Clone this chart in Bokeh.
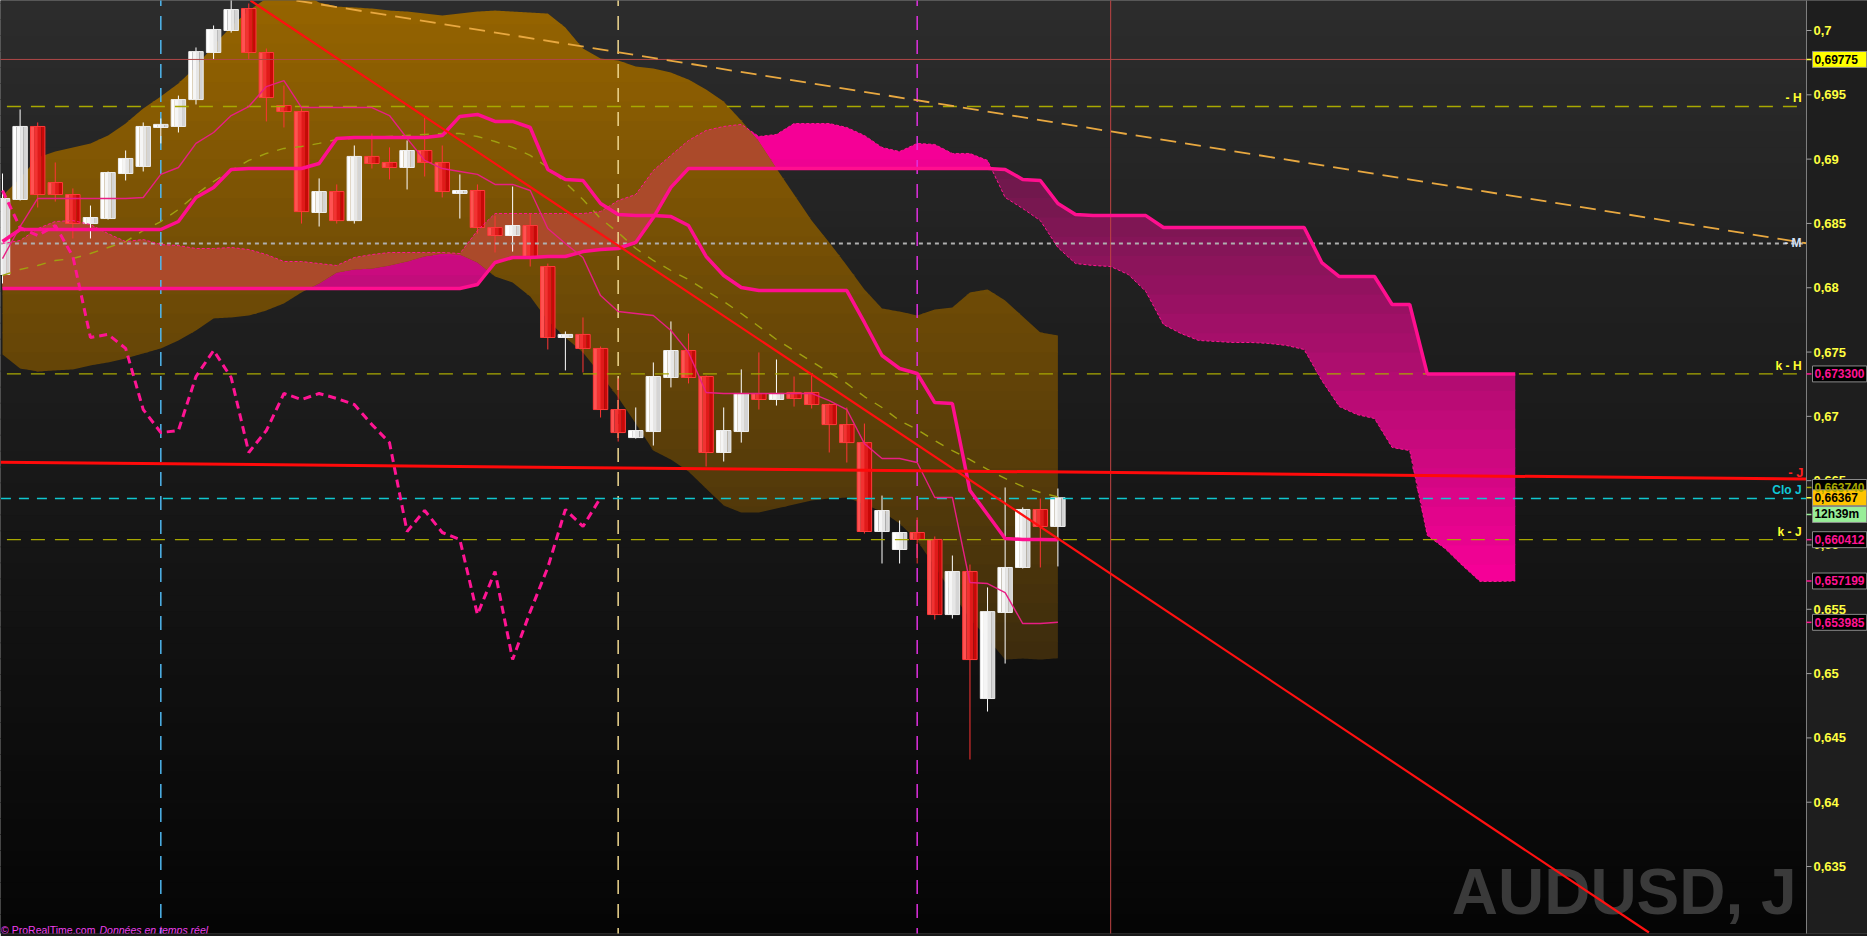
import numpy as np
from bokeh.plotting import figure
from bokeh.models import Range1d
from bokeh.embed import file_html
from bokeh.resources import INLINE
from bokeh.core.properties import value

# ---------------- data ----------------
bar = list(range(-1, 60))          # daily bars (index)
cloud_bar = list(range(-1, 86))    # Ichimoku spans, projected 26 bars ahead

opens = [0.68103, 0.68686, 0.69254, 0.68818, 0.68725, 0.68499, 0.68538, 0.68888, 0.68943, 0.69246,
         0.69254, 0.69463, 0.69829, 0.70000, 0.70171, 0.69829, 0.69417, 0.69370, 0.68585, 0.68748,
         0.68522, 0.69021, 0.68974, 0.68935, 0.69067, 0.68974, 0.68733, 0.68756, 0.68468, 0.68406,
         0.68484, 0.68165, 0.67613, 0.67637, 0.67528, 0.67053, 0.66835, 0.66882, 0.67302, 0.67512,
         0.67310, 0.66719, 0.66882, 0.67178, 0.67131, 0.67186, 0.67186, 0.67092, 0.66936, 0.66796,
         0.66105, 0.65965, 0.66097, 0.66043, 0.65459, 0.65794, 0.64806, 0.65475, 0.65825, 0.66276,
         0.66144]
highs = [0.68888, 0.69386, 0.69285, 0.68974, 0.68772, 0.68639, 0.68904, 0.69067, 0.69285, 0.69316,
         0.69494, 0.69868, 0.70039, 0.70256, 0.70210, 0.69860, 0.69572, 0.69394, 0.68850, 0.68803,
         0.69106, 0.69199, 0.69091, 0.69145, 0.69324, 0.69106, 0.68881, 0.68803, 0.68561, 0.68787,
         0.68577, 0.68188, 0.67660, 0.67769, 0.67543, 0.67295, 0.67069, 0.67419, 0.67738, 0.67644,
         0.67318, 0.67069, 0.67365, 0.67497, 0.67442, 0.67310, 0.67326, 0.67100, 0.67069, 0.66944,
         0.66384, 0.66190, 0.66214, 0.66066, 0.65918, 0.65848, 0.65670, 0.66447, 0.66292, 0.66361,
         0.66439]
lows = [0.68033, 0.68678, 0.68624, 0.68670, 0.68383, 0.68383, 0.68530, 0.68834, 0.68904, 0.69122,
        0.69207, 0.69425, 0.69774, 0.69984, 0.69774, 0.69293, 0.69246, 0.68499, 0.68476, 0.68499,
        0.68499, 0.68927, 0.68842, 0.68764, 0.68865, 0.68702, 0.68538, 0.68421, 0.68274, 0.68281,
        0.68165, 0.67520, 0.67357, 0.67341, 0.66991, 0.66804, 0.66827, 0.66773, 0.67225, 0.67256,
        0.66610, 0.66649, 0.66796, 0.67053, 0.67084, 0.67076, 0.67061, 0.66719, 0.66641, 0.66089,
        0.65856, 0.65856, 0.65856, 0.65420, 0.65428, 0.64332, 0.64705, 0.65078, 0.65817, 0.65825,
        0.65833]
closes = [0.68694, 0.69254, 0.68725, 0.68725, 0.68499, 0.68546, 0.68896, 0.69005, 0.69254, 0.69270,
          0.69463, 0.69836, 0.70008, 0.70163, 0.69829, 0.69479, 0.69370, 0.68592, 0.68748, 0.68522,
          0.69021, 0.68966, 0.68935, 0.69067, 0.68974, 0.68748, 0.68756, 0.68468, 0.68406, 0.68484,
          0.68243, 0.67613, 0.67637, 0.67528, 0.67053, 0.66874, 0.66890, 0.67310, 0.67512, 0.67302,
          0.66719, 0.66890, 0.67178, 0.67131, 0.67178, 0.67139, 0.67092, 0.66936, 0.66796, 0.66105,
          0.66268, 0.66097, 0.66043, 0.65459, 0.65794, 0.65109, 0.65482, 0.65825, 0.66276, 0.66144,
          0.66367]

tenkan = ([0.68227, 0.68476] + [0.68694] * 6 + [0.68702, 0.68881, 0.68935, 0.69122, 0.69207, 0.69339,
          0.69409, 0.69564, 0.69611] + [0.69401] * 5 + [0.69339, 0.69161, 0.68990, 0.68927, 0.68904,
          0.68881, 0.68803, 0.68803, 0.68756, 0.68460, 0.68344, 0.68235, 0.67939, 0.67815, 0.67800,
          0.67784, 0.67668, 0.67497, 0.67186] + [0.67178] * 6 + [0.67123, 0.67053, 0.66788, 0.66672,
          0.66672, 0.66641, 0.66369, 0.66369, 0.65708, 0.65700, 0.65630, 0.65389, 0.65389, 0.65399])
kijun = ([0.68359] + [0.68453] * 9 + [0.68515, 0.68702, 0.68780, 0.68920] + [0.68927] * 4 +
         [0.68966, 0.69161] + [0.69168] * 5 + [0.69184, 0.69332, 0.69347, 0.69293, 0.69293, 0.69246,
         0.68920, 0.68842, 0.68834, 0.68655, 0.68569, 0.68561, 0.68561, 0.68554, 0.68484, 0.68243,
         0.68095, 0.68002] + [0.67978] * 6 + [0.67730, 0.67473, 0.67372, 0.67333, 0.67107, 0.67100,
         0.66423, 0.66237, 0.66051, 0.66043, 0.66043, 0.66041])
span_a = ([0.68344, 0.68367, 0.68460, 0.68515, 0.68522, 0.68491, 0.68421, 0.68359, 0.68375, 0.68336,
           0.68328, 0.68305, 0.68305, 0.68313, 0.68297, 0.68258, 0.68204, 0.68204, 0.68188, 0.68173,
           0.68235, 0.68258] + [0.68274] * 4 + [0.68266, 0.68445] + [0.68577] * 6 +
          [0.68592, 0.68678, 0.68725, 0.68912, 0.69029, 0.69145, 0.69223, 0.69254, 0.69270, 0.69176,
           0.69192] + [0.69277] * 3 + [0.69246, 0.69184, 0.69091, 0.69059, 0.69122, 0.69114, 0.69044,
           0.69044, 0.68990, 0.68702, 0.68616, 0.68522, 0.68313, 0.68188, 0.68173, 0.68165, 0.68103,
           0.67971, 0.67714, 0.67644, 0.67590, 0.67582, 0.67574, 0.67574, 0.67567, 0.67551, 0.67520,
           0.67279, 0.67076, 0.67014, 0.66983, 0.66758, 0.66734, 0.66074, 0.65973, 0.65840, 0.65716,
           0.65716, 0.65720])
span_b = ([0.67994] * 27 + [0.68025, 0.68196, 0.68235, 0.68235, 0.68243, 0.68243, 0.68281, 0.68297,
           0.68305, 0.68352, 0.68546, 0.68780] + [0.68927] * 18 + [0.68920, 0.68842, 0.68834, 0.68655,
           0.68569] + [0.68561] * 4 + [0.68468] * 9 + [0.68196] + [0.68087] * 3 + [0.67870] * 2 +
          [0.67330] * 6)
bb_mid = [0.68095, 0.68142, 0.68173, 0.68212, 0.68227, 0.68266, 0.68313, 0.68359, 0.68445, 0.68515,
          0.68608, 0.68725, 0.68826, 0.68912, 0.68990, 0.69044, 0.69083, 0.69098, 0.69122, 0.69153,
          0.69161, 0.69168, 0.69176, 0.69184, 0.69192, 0.69199, 0.69199, 0.69176, 0.69137, 0.69091,
          0.69029, 0.68935, 0.68818, 0.68686, 0.68538, 0.68429, 0.68305, 0.68212, 0.68134, 0.68064,
          0.67978, 0.67893, 0.67800, 0.67699, 0.67598, 0.67512, 0.67427, 0.67341, 0.67256, 0.67154,
          0.67069, 0.66967, 0.66897, 0.66812, 0.66734, 0.66664, 0.66587, 0.66517, 0.66455, 0.66408,
          0.66374]
bb_up = [0.68717, 0.68850, 0.69013, 0.69059, 0.69091, 0.69122, 0.69184, 0.69277, 0.69394, 0.69487,
         0.69588, 0.69720, 0.69883, 0.70031, 0.70155, 0.70249, 0.70311, 0.70295, 0.70217, 0.70186,
         0.70179, 0.70171, 0.70155, 0.70147, 0.70132, 0.70116, 0.70132, 0.70147, 0.70155, 0.70147,
         0.70140, 0.70132, 0.70023, 0.69860, 0.69782, 0.69767, 0.69720, 0.69705, 0.69673, 0.69619,
         0.69541, 0.69448, 0.69300, 0.69137, 0.68927, 0.68725, 0.68522, 0.68352, 0.68173, 0.67987,
         0.67839, 0.67815, 0.67784, 0.67831, 0.67847, 0.67963, 0.67987, 0.67901, 0.67777, 0.67652,
         0.67629]
bb_low = [0.67481, 0.67372, 0.67349, 0.67357, 0.67365, 0.67396, 0.67419, 0.67450, 0.67489, 0.67528,
          0.67590, 0.67668, 0.67761, 0.67769, 0.67784, 0.67823, 0.67878, 0.67963, 0.68033, 0.68118,
          0.68142, 0.68149, 0.68173, 0.68204, 0.68243, 0.68266, 0.68258, 0.68196, 0.68087, 0.68041,
          0.67932, 0.67746, 0.67613, 0.67497, 0.67326, 0.67147, 0.66944, 0.66734, 0.66664, 0.66571,
          0.66439, 0.66307, 0.66252, 0.66252, 0.66283, 0.66315, 0.66346, 0.66361, 0.66369, 0.66315,
          0.66260, 0.66167, 0.66034, 0.65833, 0.65623, 0.65428, 0.65273, 0.65109, 0.65117, 0.65109,
          0.65119]
chikou_shift = 26

y_ticks = [0.635, 0.64, 0.645, 0.65, 0.655, 0.66, 0.665, 0.67, 0.675, 0.68, 0.685, 0.69, 0.695, 0.70]

level_names = ["- H", "- M", "k - H", "Clo J", "k - J"]
level_prices = [0.69409, 0.68344, 0.67330, 0.66362, 0.66041]
level_label_y = [0.69479, 0.68344, 0.67388, 0.66424, 0.66097]
high_line = 0.69775
red_level_name = "- J"
red_level_label_y = 0.66564

vline_bars = [8, 34, 51]
today_bar = 62

steep_x, steep_y = [13.1, 92.6], [0.70233, 0.62987]
flat_x, flat_y = [-1.114, 101.56], [0.66644, 0.66513]
orange_x, orange_y = [15.71, 101.56], [0.70233, 0.68346]

tag_text = ["0,69775", "0,673300", "0,663740", "0,66367", "12h39m", "0,660412", "0,657199", "0,653985"]
tag_price = [0.69775, 0.67330, 0.66447, 0.66367, 0.66237, 0.660412, 0.657199, 0.653985]
tag_color = ["#000000", "#ff1493", "#a8a800", "#000000", "#000000", "#ff1493", "#ff1493", "#ff1493"]
tag_bg = ["#ffff00", "#000000", "#000000", "#ffc400", "#98ee98", "#000000", "#000000", "#000000"]
tag_tick = ["#ffff40", "#ff1493", "#a8a800", "#ffff40", "#98ee98", "#ff1493", "#ff1493", "#ff1493"]

watermark = "AUDUSD, J"
footer_left = "\u00a9 ProRealTime.com"
footer_right = "Donn\u00e9es en temps r\u00e9el"

# ---------------- figure ----------------
FONT = "Liberation Sans"
X0, X1 = -1.1143, 105.026     # full canvas width (plot area + price scale)
XA = 101.558                  # right edge of the plot area / price-scale line
Y0, Y1 = 0.629792, 0.702333

p = figure(frame_width=1867, frame_height=933, x_range=Range1d(X0, X1), y_range=Range1d(Y0, Y1),
           x_axis_location=None, y_axis_location=None, output_backend="svg",
           toolbar_location=None, min_border_left=0, min_border_top=0, min_border_bottom=3,
           min_border_right=0, background_fill_color="#0a0a0a", border_fill_color="#1a1a1a",
           outline_line_color=None)
p.grid.grid_line_color = None


def mix(c0, c1, t):
    t = min(max(t, 0.0), 1.0)
    return "#%02x%02x%02x" % tuple(int(round(a + (b - a) * t)) for a, b in zip(c0, c1))


def grad(pr, p_top, c_top, p_bot, c_bot):
    return mix(c_top, c_bot, (p_top - pr) / (p_top - p_bot))


# background vertical gradient of the plot area, and the price-scale panel
edges = np.linspace(Y0 - 0.001, Y1 + 0.001, 61)
p.quad(left=X0 - 1, right=XA, top=edges[1:] + 0.00003, bottom=edges[:-1] - 0.00003,
       fill_color=[grad((a + b) / 2, Y1, (44, 44, 44), Y0, (5, 5, 5)) for a, b in zip(edges[:-1], edges[1:])],
       line_color=None)
p.quad(left=[XA], right=[X1 + 1], top=[Y1 + 0.01], bottom=[Y0 - 0.01], fill_color="#1e1e1e", line_color=None)


def dense(xs, ys, sub=8):
    xs = np.asarray(xs, float)
    ys = np.asarray(ys, float)
    xf = np.linspace(xs[0], xs[-1], (len(xs) - 1) * sub + 1)
    return xf, np.interp(xf, xs, ys)


def gradient_fill(xf, lo, hi, fn, pad=0.00003):
    e = np.linspace(0.624, 0.708, 57)
    for a, b in zip(e[:-1], e[1:]):
        l = np.clip(lo, a - pad, b + pad)
        h = np.clip(hi, a - pad, b + pad)
        idx = np.nonzero(h - l > 1e-7)[0]
        if idx.size == 0:
            continue
        i0, i1 = max(idx[0] - 1, 0), min(idx[-1] + 2, len(xf))
        p.varea(x=xf[i0:i1], y1=l[i0:i1], y2=h[i0:i1], fill_color=fn((a + b) / 2))


# Ichimoku cloud
cx, A = dense(cloud_bar, span_a)
_, B = dense(cloud_bar, span_b)
gradient_fill(cx, B, np.maximum(A, B),
              lambda pr: grad(pr, 0.69066, (245, 0, 150), 0.67978, (192, 14, 122)))
gradient_fill(cx, np.minimum(A, B), B,
              lambda pr: grad(pr, 0.68966, (105, 26, 72), 0.65716, (248, 0, 152)))

# Bollinger band (orange gradient) and its overlap with the cloud
bx, U = dense(bar, bb_up)
_, L = dense(bar, bb_low)
gradient_fill(bx, L, U, lambda pr: grad(pr, 0.70233, (150, 100, 0), 0.64791, (55, 40, 14)))
Ab = np.interp(bx, cloud_bar, span_a)
Bb = np.interp(bx, cloud_bar, span_b)
itop = np.minimum(np.maximum(Ab, Bb), U)
ibot = np.maximum(np.minimum(Ab, Bb), L)
p.varea(x=bx, y1=ibot, y2=np.maximum(itop, ibot), fill_color="#ab4a2a")

# watermark
p.text(x=[101.0], y=[0.63298], text=[watermark], text_font=value(FONT), text_font_style="bold",
       text_font_size="64px", text_color="#3a3a3a", text_align="right", text_baseline="alphabetic")

# vertical markers
vcols = ["#50b8f0", "#f0d890", "#e030e0"]
p.segment(x0=vline_bars, y0=Y0 - 0.01, x1=vline_bars, y1=Y1 + 0.01, line_color=vcols,
          line_width=1.5, line_dash="14 10")
p.segment(x0=[today_bar], y0=Y0 - 0.01, x1=[today_bar], y1=Y1 + 0.01, line_color="#c04444", line_width=1)

# candles
xb = np.array(bar, float)
o, c = np.array(opens), np.array(closes)
up = c >= o
top, bot = np.maximum(o, c), np.minimum(o, c)
minh = 0.00018
midb = (top + bot) / 2
small = (top - bot) < minh
top = np.where(small, midb + minh / 2, top)
bot = np.where(small, midb - minh / 2, bot)
w = 0.82
red_strips = ["#ff5252", "#f23232", "#e01a1a", "#c80808"]
white_strips = ["#ffffff", "#f5f5f5", "#e6e6e6", "#d4d4d4"]
src = dict(x=xb, top=top, bot=bot, lo=lows, hi=highs,
           wick=np.where(up, "#ffffff", "#ff3434"), border=np.where(up, "#eeeeee", "#ff3a3a"),
           left=xb - w / 2, right=xb + w / 2)
for i in range(4):
    src["l%d" % i] = xb - w / 2 + i * w / 4
    src["r%d" % i] = xb - w / 2 + (i + 1) * w / 4
    src["c%d" % i] = np.where(up, white_strips[i], red_strips[i])
p.segment(x0="x", y0="lo", x1="x", y1="hi", line_color="wick", line_width=1, source=src)
for i in range(4):
    p.quad(left="l%d" % i, right="r%d" % i, top="top", bottom="bot", fill_color="c%d" % i,
           line_color=None, source=src)
p.quad(left="left", right="right", top="top", bottom="bot", fill_color=None, line_color="border",
       line_width=1, source=src)

# horizontal levels
p.segment(x0=X0 - 1, y0=[high_line], x1=XA, y1=[high_line], line_color="#b04848", line_width=1)
lcols = ["#a8a800", "#b0b0b0", "#a8a800", "#10c8d0", "#a8a800"]
ldash = ["14 10", "4 4", "14 10", "10 8", "14 10"]
lwid = [1.3, 2, 1.3, 1.5, 1.3]
for pr, col, d, lw in zip(level_prices, lcols, ldash, lwid):
    p.segment(x0=X0 - 1, y0=[pr], x1=XA, y1=[pr], line_color=col, line_dash=d, line_width=lw)

# Bollinger middle
p.line(bar, bb_mid, line_color="#a0a010", line_width=1.4, line_dash="9 9")

# Ichimoku lines
p.line(cloud_bar, span_a, line_color="#ff1493", line_width=1, line_dash="3 2")
p.line(cloud_bar, span_b, line_color="#ff0f8f", line_width=3.5)
p.line(bar, tenkan, line_color="#e81e84", line_width=1.4)
p.line(bar, kijun, line_color="#ff0f8f", line_width=3.5)
p.line(list(np.array(bar[chikou_shift:]) - chikou_shift), closes[chikou_shift:],
       line_color="#ff1493", line_width=3, line_dash="8 5")

# trendlines
p.line(orange_x, orange_y, line_color="#e8a840", line_width=1.8, line_dash="16 9")
p.line(flat_x, flat_y, line_color="#ff0a0a", line_width=3)
p.line(steep_x, steep_y, line_color="#ff1010", line_width=2.2)

# level names at the right edge of the plot area
tcols = ["#ffff30", "#d4e0f4", "#ffff30", "#10c8d8", "#ffff30"]
p.text(x=[101.28] * len(level_names), y=level_label_y, text=level_names, text_color=tcols,
       text_font=value(FONT), text_font_style="bold", text_font_size="12px",
       text_align="right", text_baseline="middle")
p.text(x=[101.39], y=[red_level_label_y], text=[red_level_name], text_color="#ff2020",
       text_font=value(FONT), text_font_style="bold", text_font_size="13px",
       text_align="right", text_baseline="middle")

# footer
p.text(x=[-1.08], y=[0.630026], text=[footer_left], text_color="#f040f0",
       text_font=value(FONT), text_font_size="10.5px", text_align="left", text_baseline="alphabetic")
p.text(x=[4.514], y=[0.630026], text=[footer_right], text_color="#f040f0",
       text_font=value(FONT), text_font_style="italic", text_font_size="10.5px",
       text_align="left", text_baseline="alphabetic")

# price scale: line, ticks, labels
XT, XL = 101.842, 101.955
p.segment(x0=[XA], y0=[Y0 - 0.01], x1=[XA], y1=[Y1 + 0.01], line_color="#808080", line_width=1)
p.segment(x0=XA, y0=y_ticks, x1=XT, y1=y_ticks, line_color="#a0a0a0", line_width=1)
tick_text = [("%.3f" % t).rstrip("0").replace(".", ",") for t in y_ticks]
p.text(x=[XL] * len(y_ticks), y=y_ticks, text=tick_text, text_color="#ffff40", text_font=value(FONT),
       text_font_style="bold", text_font_size="13px", text_align="left", text_baseline="middle")

# price tags
half = 0.00062
tp = np.array(tag_price)
p.quad(left=101.9, right=104.98, top=tp + half, bottom=tp - half, fill_color=tag_bg,
       line_color="#8a8a8a", line_width=1)
p.segment(x0=XA, y0=tag_price, x1=XT, y1=tag_price, line_color=tag_tick, line_width=1.5)
p.text(x=[102.01] * len(tag_text), y=tag_price, text=tag_text, text_color=tag_color,
       text_font=value(FONT), text_font_style="bold", text_font_size="12px",
       text_align="left", text_baseline="middle")

open("out.html", "w").write(file_html(p, INLINE))
